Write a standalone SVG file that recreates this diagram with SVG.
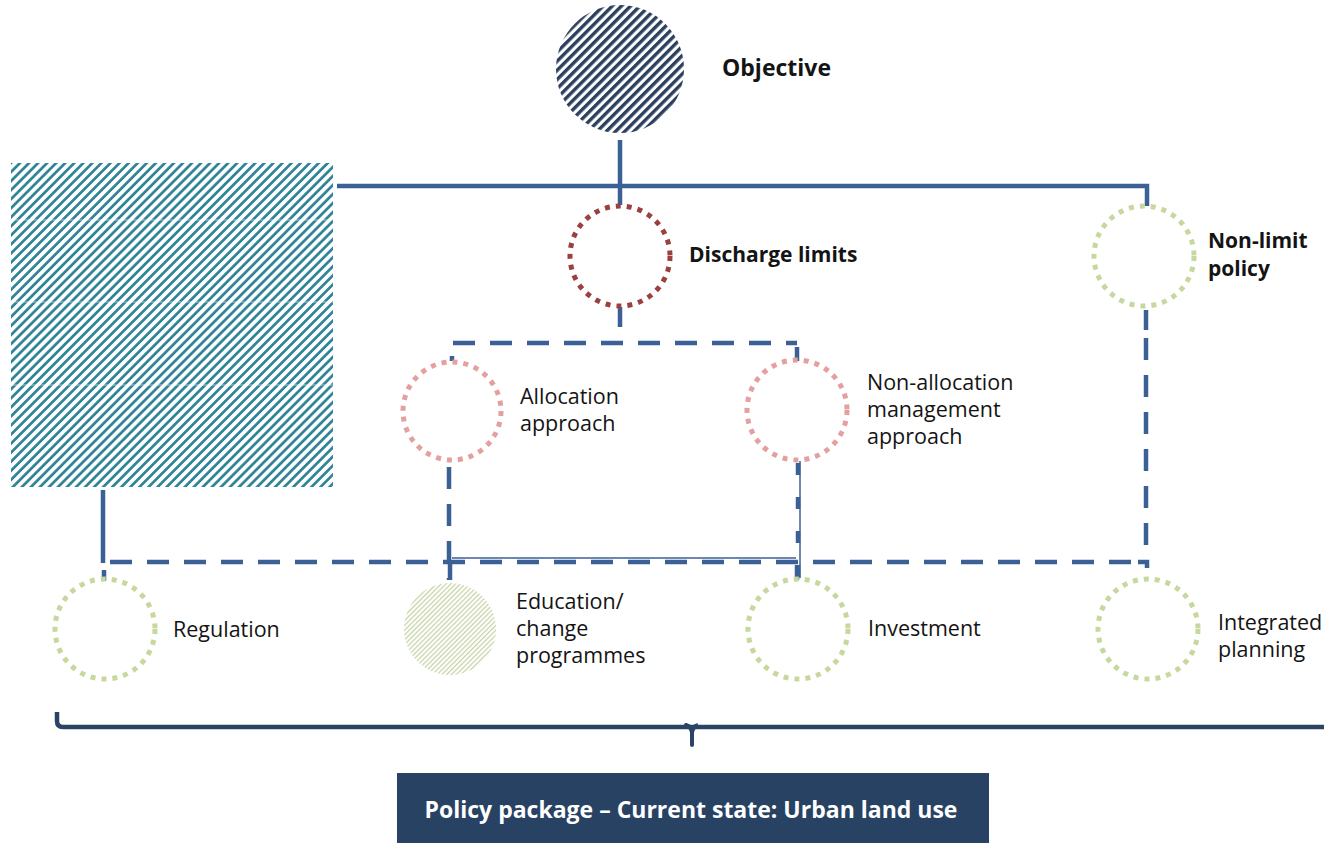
<svg xmlns="http://www.w3.org/2000/svg" width="1324" height="843" viewBox="0 0 1324 843">
<style>
.lbl{font-family:"Open Sans","Liberation Sans",sans-serif;font-size:21.5px;fill:#141414}
.bold{font-weight:bold;font-size:21px}
.solid{stroke:#3b6096;stroke-width:4.5;fill:none}
.dash{stroke:#3b6096;stroke-width:4.5;fill:none;stroke-dasharray:22 15}
.thin{stroke:#3b6096;stroke-width:1.5;fill:none}
.dotRed{fill:none;stroke:#9c3f3f;stroke-width:5;stroke-dasharray:5 6}
.dotPink{fill:none;stroke:#e3a09f;stroke-width:5;stroke-dasharray:5 6}
.dotGreen{fill:none;stroke:#c6d89e;stroke-width:5;stroke-dasharray:5 6}
</style>
<defs>
<pattern id="hNavy" patternUnits="userSpaceOnUse" width="6.5" height="6.5" patternTransform="rotate(45)">
<rect width="6.5" height="6.5" fill="#fff"/>
<line x1="1.7" y1="0" x2="1.7" y2="6.5" stroke="#2b3f5e" stroke-width="3.4"/>
</pattern>
<pattern id="hTeal" patternUnits="userSpaceOnUse" width="6.4" height="6.4" patternTransform="rotate(45)">
<rect width="6.4" height="6.4" fill="#fff"/>
<line x1="1.4" y1="0" x2="1.4" y2="6.4" stroke="#2e8397" stroke-width="2.7"/>
</pattern>
<pattern id="hGreen" patternUnits="userSpaceOnUse" width="3.4" height="3.4" patternTransform="rotate(45)">
<rect width="3.4" height="3.4" fill="#fff"/>
<line x1="0.6" y1="0" x2="0.6" y2="3.4" stroke="#c3d3a3" stroke-width="1.2"/>
</pattern>
</defs>
<rect width="1324" height="843" fill="#fff"/>

<g id="connectors">
<line class="solid" x1="620" y1="140" x2="620" y2="205"/>
<path class="solid" d="M337,186 H1147 V206"/>
<line class="solid" x1="620" y1="307" x2="620" y2="327"/>
<line class="dash" x1="453" y1="343" x2="797" y2="343"/>
<line class="solid" x1="797" y1="347" x2="797" y2="361"/>
<line class="solid" x1="452" y1="356" x2="452" y2="361"/>
<line class="dash" x1="449" y1="467" x2="449" y2="580"/>
<line class="thin" x1="800" y1="461" x2="800" y2="578"/>
<line class="dash" x1="798" y1="463" x2="798" y2="578" style="stroke-dasharray:12 22"/>
<line class="thin" x1="452" y1="558" x2="796" y2="558"/>
<line class="solid" x1="103" y1="490" x2="103" y2="563"/>
<line class="dash" x1="110" y1="562" x2="1140" y2="562"/>
<path class="solid" d="M1138,562 H1147 V568"/>
<line class="solid" x1="104" y1="570" x2="104" y2="581"/>
<line class="solid" x1="1146" y1="310" x2="1146" y2="330"/>
<line class="dash" x1="1146" y1="338" x2="1146" y2="556"/>
<line class="solid" x1="797" y1="565" x2="797" y2="580"/>
<line class="solid" x1="450" y1="562" x2="450" y2="580"/>
<path d="M57,712 V721 Q57,727 63,727 H1324" fill="none" stroke="#2a4466" stroke-width="4.5"/>
<path d="M686,725 Q692,727 692,734 V745" fill="none" stroke="#2a4466" stroke-width="4" stroke-linecap="round"/>
<path d="M698,725 Q692,727 692,734" fill="none" stroke="#2a4466" stroke-width="4"/>
</g>

<g id="objective">
<circle cx="620" cy="69" r="64" fill="url(#hNavy)"/>
<text class="lbl bold" x="722" y="76" style="font-size:23px">Objective</text>
</g>

<g id="context-box">
<rect x="11" y="163" width="322" height="324" fill="url(#hTeal)"/>
<line x1="11" y1="220" x2="333" y2="220" stroke="#fff" stroke-width="0.8" opacity="0.7"/>
<line x1="11" y1="302" x2="333" y2="302" stroke="#fff" stroke-width="0.8" opacity="0.7"/>
<line x1="11" y1="385" x2="333" y2="385" stroke="#fff" stroke-width="0.8" opacity="0.7"/>
</g>

<g id="discharge-limits">
<circle class="dotRed" cx="620" cy="256" r="50"/>
<text class="lbl bold" x="689" y="262">Discharge limits</text>
</g>

<g id="non-limit-policy">
<circle class="dotGreen" cx="1144" cy="256" r="50"/>
<text class="lbl bold" x="1208" y="248">Non-limit</text>
<text class="lbl bold" x="1208" y="276">policy</text>
</g>

<g id="allocation-approach">
<circle class="dotPink" cx="452" cy="411" r="49"/>
<text class="lbl" x="520" y="404">Allocation</text>
<text class="lbl" x="520" y="431">approach</text>
</g>

<g id="non-allocation">
<circle class="dotPink" cx="797" cy="410" r="50"/>
<text class="lbl" x="867" y="390">Non-allocation</text>
<text class="lbl" x="867" y="417">management</text>
<text class="lbl" x="867" y="444">approach</text>
</g>

<g id="regulation">
<circle class="dotGreen" cx="105" cy="629" r="50"/>
<text class="lbl" x="173" y="637">Regulation</text>
</g>

<g id="education">
<circle cx="450" cy="629" r="46" fill="url(#hGreen)"/>
<text class="lbl" x="516" y="609">Education/</text>
<text class="lbl" x="516" y="636">change</text>
<text class="lbl" x="516" y="663">programmes</text>
</g>

<g id="investment">
<circle class="dotGreen" cx="798" cy="629" r="50"/>
<text class="lbl" x="868" y="636">Investment</text>
</g>

<g id="integrated-planning">
<circle class="dotGreen" cx="1148" cy="629" r="50"/>
<text class="lbl" x="1218" y="630">Integrated</text>
<text class="lbl" x="1218" y="657">planning</text>
</g>

<g id="policy-package">
<rect x="397" y="773" width="592" height="70" fill="#284263"/>
<text x="691" y="818" text-anchor="middle" style="font-family:'Open Sans','Liberation Sans',sans-serif;font-size:23px;font-weight:bold;fill:#fff">Policy package – Current state: Urban land use</text>
</g>
</svg>
